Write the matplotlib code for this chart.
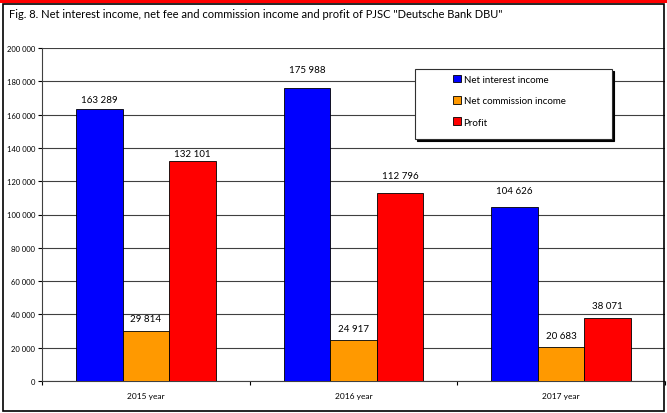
import matplotlib.pyplot as plt
import numpy as np
from matplotlib.patches import Rectangle

categories = ['2015 year', '2016 year', '2017 year']
net_interest = [163289, 175988, 104626]
net_commission = [29814, 24917, 20683]
profit = [132101, 112796, 38071]
series_names = ['Net interest income', 'Net commission income', 'Profit']
colors = ['#0000ff', '#ff9900', '#ff0000']

# label distance above each bar top (pixels), the original labels were placed by hand
label_gap = [[10, 18, 16], [13, 11.5, 11], [7.3, 18, 12]]

plt.rcParams['font.family'] = ['Lato', 'DejaVu Sans']

fig = plt.figure(figsize=(6.67, 4.14), dpi=100)
fig.patch.set_facecolor('white')

# outer frame and red band
fig.add_artist(Rectangle((0, 0.99), 1, 0.01, transform=fig.transFigure,
                         facecolor='#ff0000', edgecolor='none'))
fig.add_artist(Rectangle((0.004, 0.004), 0.992, 0.984, transform=fig.transFigure,
                         facecolor='none', edgecolor='black', linewidth=1.2))

fig.text(0.013, 0.966, 'Fig. 8. Net interest income, net fee and commission income and profit of PJSC "Deutsche Bank DBU"',
         fontsize=8.0, va='center', ha='left')

ax = fig.add_axes([42 / 667, 1 - 382 / 414, (665 - 42) / 667, (382 - 49) / 414])

x = np.arange(len(categories))
w = 0.224
for i, (vals, name, c) in enumerate(zip([net_interest, net_commission, profit], series_names, colors)):
    pos = x + (i - 1) * w
    ax.bar(pos, vals, width=w, color=c, edgecolor='black', linewidth=0.6, label=name, zorder=3)
    for p, v, g in zip(pos, vals, label_gap[i]):
        ax.annotate(f'{v:,}'.replace(',', ' '), (p, v), xytext=(0, g * 0.72),
                    textcoords='offset points', ha='center', va='center', fontsize=7)

ax.set_xlim(-0.5, 2.5)
ax.set_ylim(0, 200000)
ax.set_yticks(np.arange(0, 200001, 20000))
ax.set_yticklabels([f'{t:,}'.replace(',', ' ') for t in range(0, 200001, 20000)], fontsize=5.5)
ax.grid(axis='y', color='#404040', linewidth=0.8, zorder=0)
ax.set_axisbelow(True)

ax.set_xticks([-0.5, 0.5, 1.5, 2.5])
ax.set_xticklabels([])
ax.set_xticks(x, minor=True)
ax.set_xticklabels(categories, minor=True, fontsize=6)
ax.tick_params(axis='x', which='minor', length=0, pad=8)
ax.tick_params(axis='x', which='major', length=3, direction='out', width=0.8)
ax.tick_params(axis='y', length=3, width=0.8, pad=2)

for s in ['top', 'right']:
    ax.spines[s].set_visible(False)
ax.spines['left'].set_color('#404040')
ax.spines['bottom'].set_color('#404040')

# legend box with a small shadow, wider than its contents as in the original
shadow = Rectangle((417 / 667, 1 - 142 / 414), (612 - 415) / 667, (140 - 70) / 414,
                   transform=fig.transFigure, facecolor='black', edgecolor='black',
                   linewidth=0.8, zorder=4)
box = Rectangle((415 / 667, 1 - 140 / 414), (612 - 415) / 667, (140 - 70) / 414,
                transform=fig.transFigure, facecolor='white', edgecolor='#303030',
                linewidth=0.8, zorder=4)
for r in (shadow, box):
    r.set_clip_on(False)
    ax.add_artist(r)

leg = ax.legend(loc='upper left', bbox_to_anchor=(450 / 667, 1 - 73 / 414),
                bbox_transform=fig.transFigure,
                fontsize=7, frameon=False,
                handlelength=0.8, handleheight=0.8, labelspacing=1.25,
                borderpad=0.3, handletextpad=0.3, borderaxespad=0)
leg.set_zorder(5)

fig.savefig('out.png', dpi=100)
